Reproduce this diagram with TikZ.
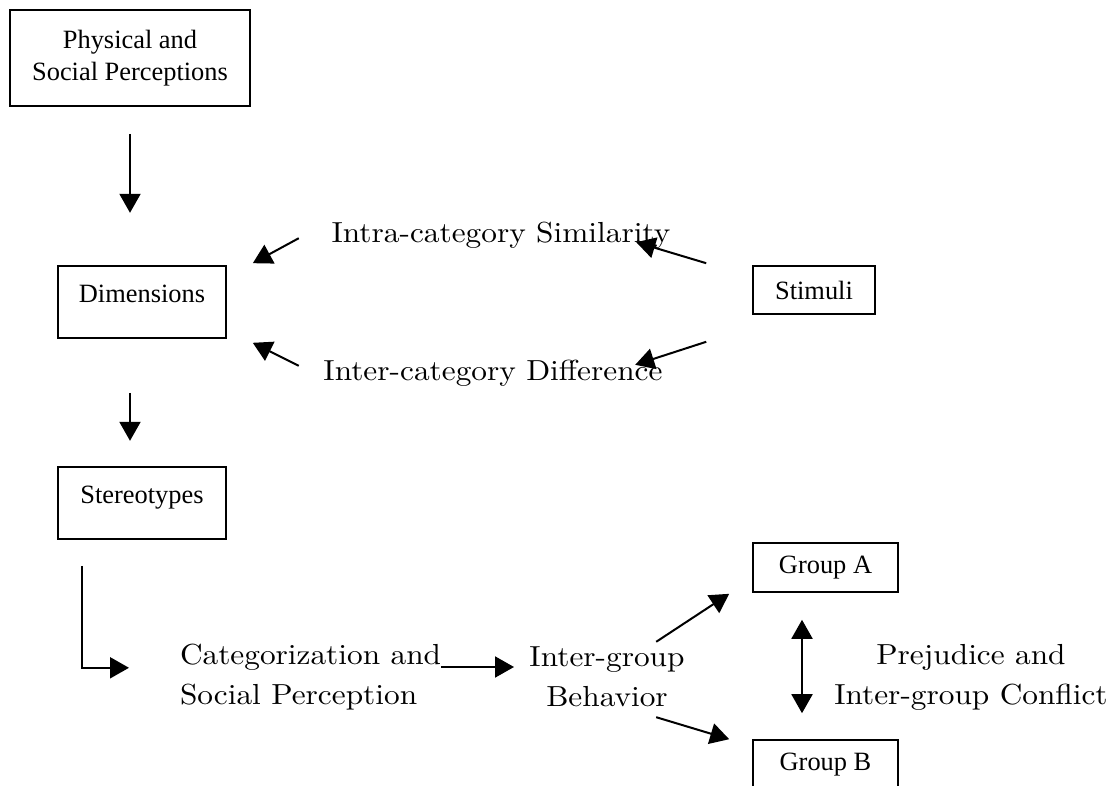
\documentclass[tikz,border=0pt]{standalone}
\usepackage{fontspec}
\setmainfont{Liberation Serif}
\newfontfamily\centfont{lmroman10-regular.otf}[FakeStretch=1.08]
\usetikzlibrary{arrows.meta}

\begin{document}
\begin{tikzpicture}[x=0.5pt,y=-0.5pt,line width=1pt,
        box/.style={draw,line width=0.8pt,inner sep=0pt,align=center,font=\fontsize{13.2}{16}\selectfont},
        tallbox/.style={box,minimum width=84pt,text height=18pt,text depth=18pt},
        grpbox/.style={box,minimum width=72.5pt,minimum height=24.5pt},
        lbl/.style={inner sep=0pt,font=\centfont\fontsize{14.5}{20}\selectfont},
        arr/.style={-{Triangle[length=9.5pt,width=10.5pt]}},
        dblarr/.style={{Triangle[length=9.5pt,width=10.5pt]}-{Triangle[length=9.5pt,width=10.5pt]}}]
            \useasboundingbox (0,0) rectangle (1113,786);

            \node[box,minimum width=120pt,minimum height=48pt] (phys) at (130,58) {Physical and\\Social Perceptions};
            \node[tallbox] (dim) at (142,302) {Dimensions};
            \node[tallbox] (stereo) at (142,503) {Stereotypes};
            \node[box,minimum width=61pt,minimum height=24pt] (stim) at (814,290) {Stimuli};
            \node[grpbox] (grpA) at (825.5,567.5) {Group A};
            \node[grpbox] (grpB) at (825.5,764.5) {Group B};

            \node[lbl] (intra) at (501,235) {Intra-category Similarity};
            \node[lbl] (inter) at (493,373) {Inter-category Difference};
            \node[lbl,anchor=west,align=left] (cat) at (179,677) {Categorization and\\Social Perception};
            \node[lbl,align=center] (igb) at (607,677) {Inter-group\\Behavior};
            \node[lbl,align=center] (prej) at (971,677) {Prejudice and\\Inter-group Conflict};

            \draw[arr] ([shift={(0,27)}]phys.south) -- ++(0,79);
            \draw[arr] ([shift={(-12,54)}]dim.south) -- ++(0,48);
            \draw[arr] ([shift={(72,-27)}]dim.north east) -- ([shift={(26,-2)}]dim.north east);
            \draw[arr] ([shift={(72,27)}]dim.south east) -- ([shift={(26,4)}]dim.south east);
            \draw[arr] ([shift={(-46,-2)}]stim.north west) -- ([shift={(-116,-23)}]stim.north west);
            \draw[arr] ([shift={(-46,27)}]stim.south west) -- ([shift={(-117,50)}]stim.south west);

            \draw[arr] ([shift={(-60,26)}]stereo.south) -- ++(0,102) -- ++(47,0);
            \draw[arr] ([shift={(262,-10)}]cat.west) -- ++(73,0);
            \draw[arr] ([shift={(-96,49)}]grpA.south west) -- ([shift={(-23,1)}]grpA.south west);
            \draw[arr] ([shift={(-96,-22)}]grpB.north west) -- ([shift={(-23,0)}]grpB.north west);
            \draw[dblarr] ([shift={(-23.5,27)}]grpA.south) -- ([shift={(-23.5,-26)}]grpB.north);
        \end{tikzpicture}
\end{document}
